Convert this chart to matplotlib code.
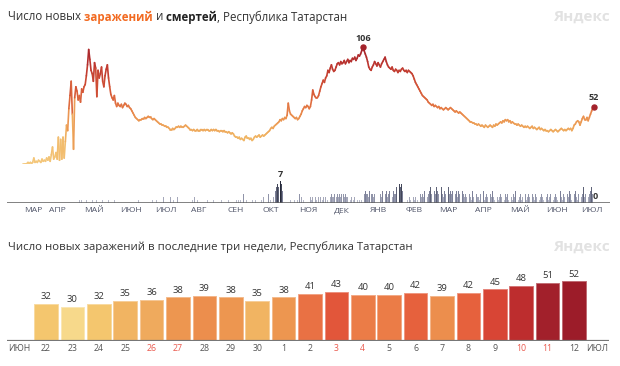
import datetime as dt

import matplotlib
matplotlib.use("Agg")
import matplotlib.dates as mdates
import matplotlib.pyplot as plt
import matplotlib.transforms as mtransforms
import numpy as np
from matplotlib.collections import LineCollection
from matplotlib.colors import LinearSegmentedColormap, to_rgb

plt.rcParams["font.family"] = ["Open Sans", "DejaVu Sans"]

W, H = 620, 366
LAST_DAY = dt.date(2021, 7, 12)

# daily new cases, ending on LAST_DAY
cases = [
    0, 0, 0, 0, 1, 0, 1, 0, 1, 5, 1, 2, 1, 3, 2, 1, 4, 2, 3, 2,
    5, 3, 6, 2, 8, 15, 4, 6, 10, 4, 24, 3, 22, 4, 24, 5,
    20, 35, 30, 50, 62, 75, 45, 13, 60, 70, 66, 58, 62, 56, 68, 65, 70,
    72, 80, 90, 104,
    95, 85, 82, 75, 92, 87, 61, 85, 78, 82, 88, 75, 70, 80, 86, 90, 78, 70, 63, 60, 58, 62, 55, 52,
    55, 53, 52, 54, 51, 53, 55, 54, 52, 53, 51, 50,
    48, 46, 44, 42, 41, 40, 39, 40,
    40, 41, 41, 42, 41, 42, 43, 42, 42, 41, 40, 41, 40, 39, 38,
    37, 36, 36, 35, 35, 34, 34, 33, 33, 32, 31, 31, 32, 31,
    32, 33, 33, 34, 33, 34, 33, 33, 34, 35, 34, 33, 32, 31, 31, 30,
    31, 30, 30, 31, 30, 30, 31, 31, 30, 31, 30, 31, 31, 30, 30,
    31, 30, 31, 30, 31, 30, 30, 29, 30, 30, 29, 30, 29, 29, 28, 29, 28, 27, 28, 27,
    25, 24, 24, 23, 24, 22, 23, 22, 21, 24, 25, 23, 23, 22, 23, 21, 22, 24, 25, 24,
    25, 26, 24, 25, 26, 25, 26, 27,
    28, 29, 30, 32, 33, 32, 34, 35, 36, 37, 38,
    40, 39, 41, 40, 42, 41, 44, 55, 48,
    45, 44, 43, 42, 41, 42, 40, 41, 43, 45,
    48, 50, 52, 51, 53, 52, 50, 52, 58,
    67, 63, 61, 60, 60, 62, 66, 70, 73,
    76, 74, 78, 80, 85, 83, 87, 90, 86, 84, 85, 88,
    91, 92, 90, 93, 91, 92, 94, 91, 93, 95, 92, 94, 93, 96, 95, 97, 94, 96, 99, 98, 100, 103,
    106, 103, 100, 97, 93, 88, 86, 85,
    88, 90, 93, 91, 89, 92, 90, 88, 91, 93, 95, 97, 93, 90,
    88, 87, 86, 88, 85, 84, 86, 85, 83, 85, 84, 86, 87, 85, 84, 85, 83, 85, 84, 83, 82,
    80, 77, 74, 72, 70, 68, 66, 64, 62, 61, 60, 59, 58,
    56, 55, 54, 53, 54, 52, 53, 52, 51, 52, 50, 51, 50, 49, 50, 51, 50, 49, 50, 51,
    50, 49, 48, 47, 48, 47, 46, 47,
    46, 45, 44, 43, 42, 41, 40, 39, 38, 38, 37,
    37, 36, 36, 35, 36, 35, 34, 35, 34, 33, 35, 34, 33, 34, 35, 34, 33, 35, 34, 36, 35, 36, 37,
    38, 37, 39, 38, 40, 39, 40, 38, 39, 37, 38, 37, 36, 36, 35,
    36, 35, 34, 35, 34, 33, 34, 33, 34, 33, 32, 33, 34, 32, 33, 32, 31, 32, 33, 31,
    32, 31, 30, 31, 30, 30, 29, 30, 31, 30, 29,
    30, 31, 30, 29, 30, 31, 32, 31, 30, 31, 30, 31, 32, 31,
    32, 30, 32, 35, 36, 38, 39, 38, 35, 38, 41, 43, 40, 40, 42, 39, 42, 45, 48, 51, 52,
]

# daily deaths, same days as cases
deaths = [
    0, 0, 0, 0, 0, 0, 0, 0, 0, 0, 0, 0, 0, 0, 0, 0, 0, 0, 0, 0,
    0, 0, 0, 0, 0, 0, 0, 0, 0, 0, 0, 0, 0, 0, 0, 0, 0, 0, 0, 0,
    0, 0, 0, 0, 0, 0, 0, 0, 1, 0, 1, 0, 1, 0, 1, 0, 0, 0, 0, 1,
    0, 0, 0, 1, 0, 0, 0, 0, 1, 0, 0, 0, 0, 1, 0, 0, 0, 0, 1, 0,
    0, 0, 0, 0, 0, 0, 0, 0, 0, 0, 0, 0, 0, 0, 0, 0, 0, 0, 0, 1,
    0, 0, 0, 0, 0, 0, 0, 0, 0, 0, 0, 1, 0, 0, 1, 0, 0, 0, 1, 0,
    2, 0, 0, 0, 1, 0, 2, 0, 0, 1, 0, 0, 2, 0, 0, 0, 0, 0, 0, 0,
    0, 0, 0, 0, 0, 1, 0, 2, 0, 1, 0, 0, 0, 0, 1, 0, 0, 0, 1, 0,
    0, 0, 0, 1, 0, 0, 0, 0, 0, 0, 1, 0, 0, 0, 0, 0, 1, 0, 0, 0,
    0, 0, 0, 1, 1, 0, 1, 0, 0, 3, 0, 1, 0, 0, 0, 0, 1, 0, 0, 1,
    0, 0, 0, 0, 1, 0, 2, 0, 0, 0, 3, 0, 1, 0, 2, 0, 4, 5, 6, 5,
    7, 6, 4, 0, 0, 0, 0, 0, 0, 1, 0, 0, 1, 0, 0, 1, 0, 3, 2, 0,
    1, 0, 0, 0, 0, 0, 2, 1, 2, 0, 2, 1, 0, 2, 0, 2, 1, 2, 0, 2,
    0, 1, 0, 2, 3, 2, 2, 3, 2, 3, 2, 3, 2, 3, 3, 2, 3, 2, 2, 0,
    1, 2, 0, 1, 2, 0, 1, 0, 1, 0, 1, 0, 3, 4, 3, 3, 2, 4, 3, 3,
    2, 3, 0, 1, 0, 0, 3, 2, 4, 3, 3, 4, 2, 3, 4, 3, 2, 4, 3, 3,
    5, 6, 6, 5, 6, 4, 0, 0, 0, 1, 0, 2, 1, 0, 2, 1, 2, 0, 1, 2,
    3, 2, 3, 2, 4, 3, 2, 3, 4, 5, 3, 5, 4, 3, 5, 4, 3, 4, 5, 3,
    2, 4, 3, 4, 5, 3, 4, 3, 4, 5, 3, 4, 2, 4, 3, 2, 4, 3, 2, 3,
    2, 1, 3, 2, 1, 4, 2, 1, 3, 2, 2, 1, 3, 2, 4, 1, 2, 3, 2, 1,
    3, 2, 4, 2, 1, 3, 2, 1, 2, 3, 2, 4, 1, 3, 2, 3, 1, 4, 2, 1,
    3, 2, 4, 3, 1, 2, 3, 1, 2, 4, 3, 1, 2, 3, 2, 1, 3, 2, 1, 3,
    2, 4, 1, 2, 3, 2, 1, 4, 2, 3, 1, 2, 3, 4, 1, 2, 3, 2, 1, 3,
    4, 2, 1, 3, 2, 4, 3, 2, 4, 3, 1, 2, 3, 4, 2, 1, 3, 4, 2, 3,
    5, 2, 3, 4, 2, 3, 4, 5, 3, 0,
]

months = ["МАР", "АПР", "МАЙ", "ИЮН", "ИЮЛ", "АВГ", "СЕН", "ОКТ", "НОЯ",
          "ДЕК", "ЯНВ", "ФЕВ", "МАР", "АПР", "МАЙ", "ИЮН", "ИЮЛ"]
month_starts = [dt.date(2020, m, 1) for m in range(3, 13)] + \
               [dt.date(2021, m, 1) for m in range(1, 8)]

recent_cases = cases[-21:]

TEXT = "#333333"
AXIS = "#5f5f5f"
MONTH_C = "#4f5468"
WEEKEND = "#ea5a4e"

line_cmap = LinearSegmentedColormap.from_list("line", [
    (0.0, "#f4c87c"), (25 / 106, "#f0b463"), (35 / 106, "#eda158"),
    (45 / 106, "#e98a4b"), (55 / 106, "#e06e40"), (70 / 106, "#d25236"),
    (90 / 106, "#bd3630"), (1.0, "#a3222b")])
death_cmap = LinearSegmentedColormap.from_list("deaths", ["#b9bccb", "#7c8098", "#262939"])
bar_nodes = [(30, "#f7d98b"), (32, "#f4c66e"), (35, "#f1b462"), (36, "#efa95d"),
             (38, "#ed9650"), (39, "#ec8e4d"), (40, "#eb7c47"), (41, "#e97244"),
             (42, "#e6613d"), (43, "#e2563a"), (45, "#d84535"), (48, "#bd2d2e"),
             (51, "#a2202b"), (52, "#9c1c29")]
bar_cmap = LinearSegmentedColormap.from_list(
    "bars", [((v - 30) / 22, c) for v, c in bar_nodes])


def px_axes(fig, left, top, right, bottom):
    ax = fig.add_axes([left / W, 1 - bottom / H, (right - left) / W, (bottom - top) / H])
    ax.patch.set_alpha(0)
    ax.axis("off")
    return ax


def rich_text(fig, x_px, y_px, parts, size):
    renderer = fig.canvas.get_renderer()
    x = x_px / W
    for text, color, weight in parts:
        t = fig.text(x, 1 - y_px / H, text, color=color, fontsize=size,
                     fontweight=weight, va="center", ha="left")
        x += t.get_window_extent(renderer).width / fig.bbox.width


def lighten(c, k):
    r, g, b = to_rgb(c)
    return (r + (1 - r) * k, g + (1 - g) * k, b + (1 - b) * k)


fig = plt.figure(figsize=(W / 100, H / 100), dpi=100, facecolor="white")

# ---- top chart: whole epidemic ----
n = len(cases)
dates = [LAST_DAY - dt.timedelta(days=n - 1 - i) for i in range(n)]
x = mdates.date2num(dates)
px_per_day = 1.167
x_last = x[-1]
xlim = (x_last - (594 - 7) / px_per_day, x_last + (610 - 594) / px_per_day)

ax_c = px_axes(fig, 7, 30, 610, 163.5)
ax_c.set_xlim(*xlim)
ax_c.set_ylim(0, (163.5 - 30) / 1.096)
yc = np.array(cases, dtype=float)
pts = np.column_stack([x, yc]).reshape(-1, 1, 2)
segs = np.concatenate([pts[:-1], pts[1:]], axis=1)
lc = LineCollection(segs, colors=line_cmap(((yc[:-1] + yc[1:]) / 2) / 106),
                    linewidths=1.2, capstyle="round", joinstyle="round")
ax_c.add_collection(lc)
for i in (int(np.argmax(yc)), n - 1):
    ax_c.plot(x[i], yc[i], "o", ms=3.6, color="#a3222b", zorder=5, clip_on=False)
    ax_c.annotate(str(cases[i]), (x[i], yc[i]), xytext=(0, 3), textcoords="offset points",
                  ha="center", va="bottom", fontsize=6.5, color=TEXT, fontweight="bold",
                  annotation_clip=False)

ax_d = px_axes(fig, 7, 165, 610, 203)
ax_d.set_xlim(*xlim)
ax_d.set_ylim(0, 38 / 3.1)
dv = np.array(deaths)
mask = dv > 0
ax_d.bar(x[mask], dv[mask], width=0.75, color=death_cmap((dv[mask] - 1) / 6), linewidth=0)
ax_d.axhline(0, color=AXIS, lw=1.1, zorder=4)
imax = int(np.argmax(dv))
ax_d.annotate(str(deaths[imax]), (x[imax], dv[imax]), xytext=(0, 1.5), textcoords="offset points",
              ha="center", va="bottom", fontsize=6.5, color=TEXT, fontweight="bold")
ax_d.annotate(str(deaths[-1]), (x[-1], 0), xytext=(1, 1.5), textcoords="offset points",
              ha="center", va="bottom", fontsize=6.5, color=TEXT, fontweight="bold")

month_tr = mtransforms.blended_transform_factory(ax_d.transData, fig.transFigure)
for label, start in zip(months, month_starts):
    mx = max(mdates.date2num(start), x[0] + 1)
    ax_d.text(mx, 1 - 211 / H, label, transform=month_tr, ha="left", va="center",
              fontsize=6.1, color=MONTH_C)

rich_text(fig, 8, 17, [("Число новых", TEXT, "normal"),
                       (" заражений", "#f26a21", "bold"),
                       (" и", TEXT, "normal"),
                       (" смертей", "#222222", "bold"),
                       (", Республика Татарстан", TEXT, "normal")], 8.3)
fig.text(610 / W, 1 - 17 / H, "Яндекс", ha="right", va="center", fontsize=11,
         fontweight="bold", color="#e2e2e2")

# ---- bottom chart: last three weeks ----
recent_dates = dates[-21:]
ax_b = px_axes(fig, 7, 262, 609, 340.7)
ax_b.set_xlim((7 - 46) / 26.4, (609 - 46) / 26.4)
ax_b.set_ylim(0, (340.7 - 262) / 1.14)
pos = np.arange(len(recent_cases))
bar_colors = bar_cmap((np.array(recent_cases) - 30) / 22)
ax_b.bar(pos, recent_cases, width=0.9, color=bar_colors,
         edgecolor=[lighten(c, 0.35) for c in bar_colors], linewidth=0.7)
ax_b.axhline(0, color="#777777", lw=1.6, zorder=4)
for p, v in zip(pos, recent_cases):
    ax_b.annotate(str(v), (p, v), xytext=(0, 2), textcoords="offset points",
                  ha="center", va="bottom", fontsize=6.8, color=TEXT)

day_tr = mtransforms.blended_transform_factory(ax_b.transData, fig.transFigure)
for p, d in zip(pos, recent_dates):
    ax_b.text(p, 1 - 348.5 / H, str(d.day), transform=day_tr, ha="center", va="center",
              fontsize=6.3, color=WEEKEND if d.weekday() >= 5 else "#555555")
fig.text(8 / W, 1 - 348.5 / H, "ИЮН", ha="left", va="center", fontsize=6.3, color="#555555")
fig.text(608 / W, 1 - 348.5 / H, "ИЮЛ", ha="right", va="center", fontsize=6.3, color="#555555")

fig.text(8 / W, 1 - 247 / H, "Число новых заражений в последние три недели, Республика Татарстан",
         ha="left", va="center", fontsize=8.2, color=TEXT)
fig.text(610 / W, 1 - 247 / H, "Яндекс", ha="right", va="center", fontsize=11,
         fontweight="bold", color="#e2e2e2")

fig.savefig("out.png", dpi=100, facecolor="white")
